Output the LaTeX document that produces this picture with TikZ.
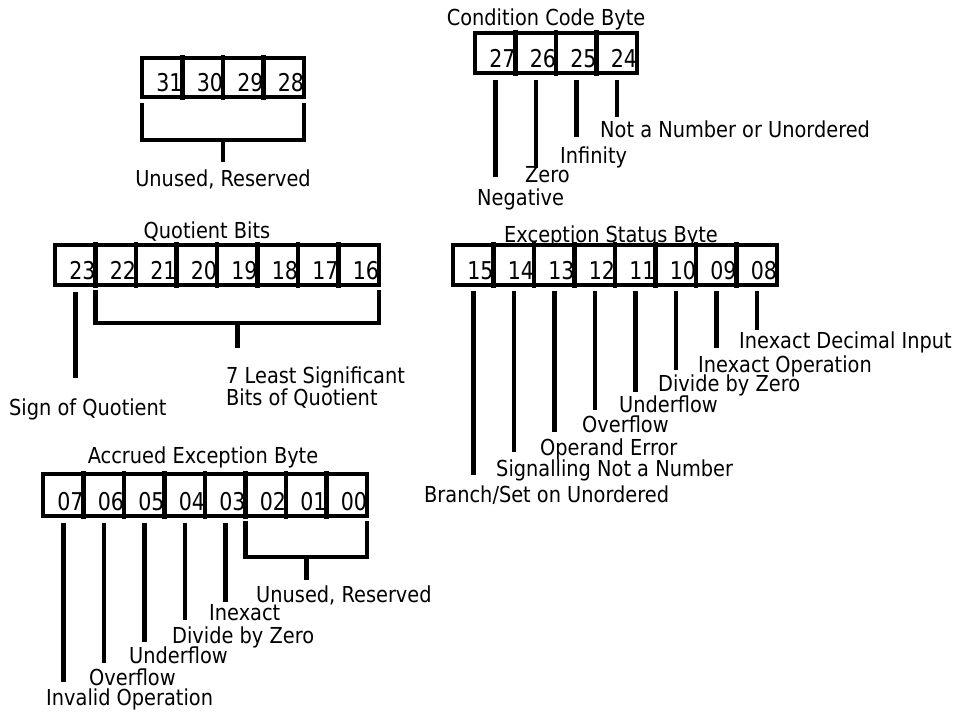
\documentclass[tikz,border=0pt]{standalone}
\usepackage{fontspec}
\newfontfamily\dvs[FakeStretch=0.88]{DejaVu Sans}
\newfontfamily\dvn[FakeStretch=0.84]{DejaVu Sans}
\usetikzlibrary{calc}
\begin{document}
\begin{tikzpicture}[x=1pt,y=-1pt,
  txt/.style={font=\dvs\fontsize{22}{26}\selectfont, inner sep=0pt},
  num/.style={font=\dvn\fontsize{24.5}{28}\selectfont, inner sep=0pt},
  cell/.style={rectangle, minimum width=40.5pt, minimum height=#1, inner sep=0pt},
  cell/.default=40pt,
  frame/.style={draw, line width=4.5pt},
  divider/.style={line width=4.5pt},
  lead/.style={line width=4.5pt},
  bracket/.style={line width=4.5pt, line join=miter},
]
\useasboundingbox (0,0) rectangle (963,712);

% ---------- helper ----------
\newcommand\myregister[4]{%
  \foreach \b [count=\i from 0] in {#1} {
    \node[cell=#4] (c\b) at ({#2+40.5*\i+20.25},#3) {};
    \node[num, anchor=base east] (n\b) at ([yshift=6pt]c\b.south east) {\b};
  }%
}

% ---------- Unused, reserved (31-28) ----------
\myregister{31,30,29,28}{142}{77.5}{39pt}
\draw[frame] (c31.north west) rectangle (c28.south east);
\foreach \b in {31,30,29}
  \draw[divider] ([yshift=3pt]c\b.north east) -- ([yshift=-3pt]c\b.south east);
\draw[bracket] ([yshift=-6pt]c31.south west) -- ++(0,37) -| ([yshift=-6pt]c28.south east);
\draw[bracket] ($(c31.south west)!.5!(c28.south east)+(0,43)$) -- ++(0,22);
\node[txt, anchor=base] (u1) at (223,186) {Unused, Reserved};

% ---------- Condition Code Byte (27-24) ----------
\node[txt, anchor=base] (tcc) at (546,25) {Condition Code Byte};
\myregister{27,26,25,24}{475}{53}{40pt}
\draw[frame] (c27.north west) rectangle (c24.south east);
\foreach \b in {27,26,25}
  \draw[divider] ([yshift=3pt]c\b.north east) -- ([yshift=-3pt]c\b.south east);
\foreach \b/\l in {27/97,26/88,25/57,24/37}
  \draw[lead] ([yshift=-7pt]c\b.south) -- ++(0,\l);
\node[txt, anchor=base west] (lneg) at (477,205) {Negative};
\node[txt, anchor=base west] (lzero) at (525,182) {Zero};
\node[txt, anchor=base west] (linf) at (560,163) {Infinity};
\node[txt, anchor=base west] (lnan) at (600,137) {Not a Number or Unordered};

% ---------- Quotient Bits (23-16) ----------
\node[txt, anchor=base] (tq) at (207,238) {Quotient Bits};
\myregister{23,22,21,20,19,18,17,16}{55}{265}{40pt}
\draw[frame] (c23.north west) rectangle (c16.south east);
\foreach \b in {23,22,21,20,19,18,17}
  \draw[divider] ([yshift=3pt]c\b.north east) -- ([yshift=-3pt]c\b.south east);
\draw[lead] ([yshift=-7pt]c23.south) -- ++(0,86);
\draw[bracket] ([yshift=-5pt]c22.south west) -- ++(0,33) -| ([yshift=-5pt]c16.south east);
\draw[bracket] ($(c22.south west)!.5!(c16.south east)+(0,38)$) -- ++(0,25);
\node[txt, anchor=base west] (lsign) at (9,415) {Sign of Quotient};
\node[txt, anchor=base west] (lls1) at (226,383) {7 Least Significant};
\node[txt, anchor=base west] (lls2) at (226,405) {Bits of Quotient};

% ---------- Exception Status Byte (15-08) ----------
\node[txt, anchor=base] (tes) at (611,242) {Exception Status Byte};
\myregister{15,14,13,12,11,10,09,08}{453}{265}{40pt}
\draw[frame] (c15.north west) rectangle (c08.south east);
\foreach \b in {15,14,13,12,11,10,09}
  \draw[divider] ([yshift=3pt]c\b.north east) -- ([yshift=-3pt]c\b.south east);
\foreach \b/\l in {15/184,14/161,13/141,12/119,11/101,10/79,09/57,08/39}
  \draw[lead] ([yshift=-6pt]c\b.south) -- ++(0,\l);
\node[txt, anchor=base west] (lbr) at (424,502) {Branch/Set on Unordered};
\node[txt, anchor=base west] (lsnan) at (496,476) {Signalling Not a Number};
\node[txt, anchor=base west] (lope) at (540,455) {Operand Error};
\node[txt, anchor=base west] (lovf) at (582,432) {Overflow};
\node[txt, anchor=base west] (lunf) at (619,412) {Underflow};
\node[txt, anchor=base west] (ldz) at (658,391) {Divide by Zero};
\node[txt, anchor=base west] (lio) at (698,372) {Inexact Operation};
\node[txt, anchor=base west] (lidi) at (739,348) {Inexact Decimal Input};

% ---------- Accrued Exception Byte (07-00) ----------
\node[txt, anchor=base] (tae) at (203,463) {Accrued Exception Byte};
\myregister{07,06,05,04,03,02,01,00}{43}{495}{42pt}
\draw[frame] (c07.north west) rectangle (c00.south east);
\foreach \b in {07,06,05,04,03,02,01}
  \draw[divider] ([yshift=3pt]c\b.north east) -- ([yshift=-3pt]c\b.south east);
\foreach \b/\l in {07/159,06/140,05/119,04/97,03/79}
  \draw[lead] ([yshift=-7pt]c\b.south) -- ++(0,\l);
\draw[bracket] ([yshift=-5pt]c02.south west) -- ++(0,36) -| ([yshift=-5pt]c00.south east);
\draw[bracket] ($(c02.south west)!.5!(c00.south east)+(0,41)$) -- ++(0,23);
\node[txt, anchor=base west] (au) at (256,602) {Unused, Reserved};
\node[txt, anchor=base west] (ain) at (209,620) {Inexact};
\node[txt, anchor=base west] (adz) at (172,643) {Divide by Zero};
\node[txt, anchor=base west] (aun) at (129,663) {Underflow};
\node[txt, anchor=base west] (aov) at (89,685) {Overflow};
\node[txt, anchor=base west] (aio) at (46,705) {Invalid Operation};
\end{tikzpicture}
\end{document}
